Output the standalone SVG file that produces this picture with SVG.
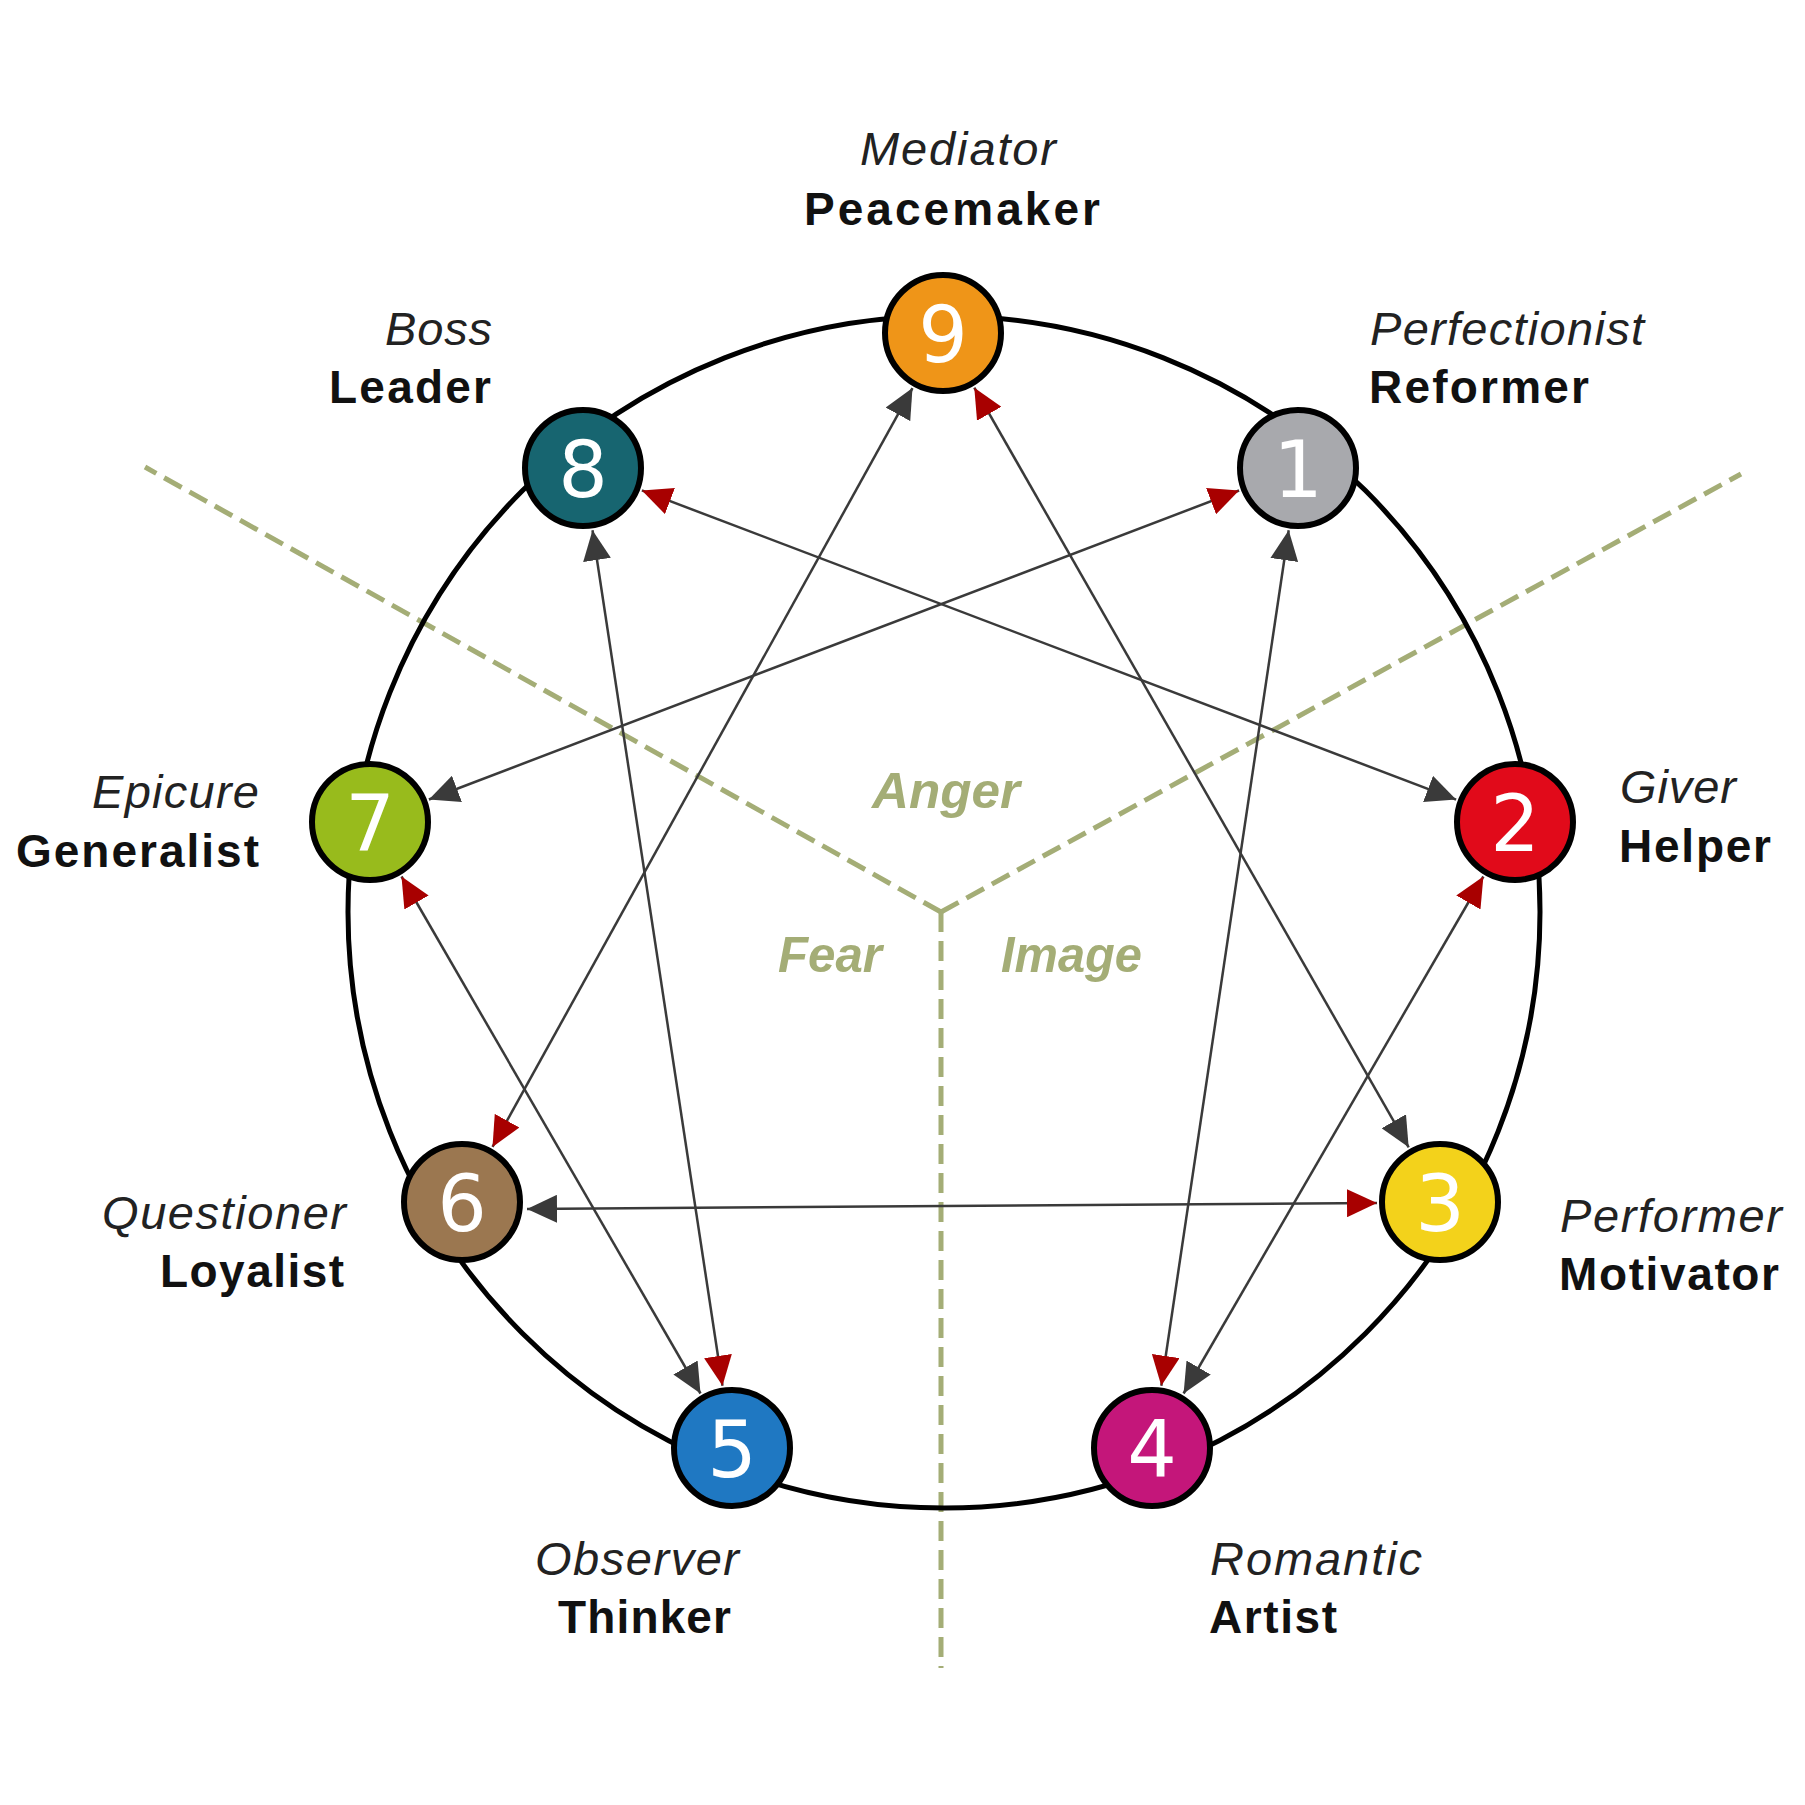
<svg xmlns="http://www.w3.org/2000/svg" width="1805" height="1805" viewBox="0 0 1805 1805">
<style>
.zone{fill:none;stroke:#a4ad76;stroke-width:5;stroke-dasharray:20 9}
.ring{fill:none;stroke:#000;stroke-width:5}
.con{stroke:#3a3a3a;stroke-width:2.5;fill:none;marker-start:url(#dark);marker-end:url(#red)}
.node circle{stroke:#000;stroke-width:6}
.num{font-family:"DejaVu Sans",sans-serif;font-size:78px;fill:#fff;text-anchor:middle}
.it{font-family:"Liberation Sans",Arial,sans-serif;font-style:italic;font-size:47px;fill:#222}
.bd{font-family:"Liberation Sans",Arial,sans-serif;font-weight:bold;font-size:46px;fill:#111}
.zl{font-family:"Liberation Sans",Arial,sans-serif;font-weight:bold;font-style:italic;font-size:50px;fill:#a4ad76}
</style>
<defs>
<marker id="red" viewBox="0 0 30 28" refX="30" refY="14" markerWidth="30" markerHeight="28" markerUnits="userSpaceOnUse" orient="auto"><path d="M0,0 L30,14 L0,28 z" fill="#a80000"/></marker>
<marker id="dark" viewBox="0 0 30 28" refX="30" refY="14" markerWidth="30" markerHeight="28" markerUnits="userSpaceOnUse" orient="auto-start-reverse"><path d="M0,0 L30,14 L0,28 z" fill="#3a3a3a"/></marker>
</defs>
<rect width="1805" height="1805" fill="#fff"/>
<g id="zones">
<path class="zone" d="M941,912 L145,467"/>
<path class="zone" d="M941,912 L1741,474"/>
<path class="zone" d="M941,912 L941,1668"/>
<text class="zl" x="872" y="808" textLength="148" lengthAdjust="spacingAndGlyphs">Anger</text>
<text class="zl" x="778" y="972" textLength="104" lengthAdjust="spacingAndGlyphs">Fear</text>
<text class="zl" x="1001" y="972" textLength="141" lengthAdjust="spacingAndGlyphs">Image</text>
</g>
<circle id="ring" class="ring" cx="944" cy="912" r="596"/>
<g id="connectors">
<path class="con" d="M1288.7,530.3 L1161.3,1385.7"/>
<path class="con" d="M1183.6,1393.5 L1483.4,876.5"/>
<path class="con" d="M1456.1,799.6 L641.9,490.4"/>
<path class="con" d="M592.5,530.3 L722.5,1385.7"/>
<path class="con" d="M700.5,1393.5 L401.5,876.5"/>
<path class="con" d="M428.9,799.5 L1239.1,490.5"/>
<path class="con" d="M912.5,388.1 L492.5,1146.9"/>
<path class="con" d="M527,1209 L1377,1203"/>
<path class="con" d="M1408.7,1147.3 L974.3,387.7"/>
</g>
<g id="n9" class="node"><circle cx="943" cy="333" r="58" fill="#ef9518"/><text class="num" x="943" y="362">9</text>
<text class="it" x="860" y="165" textLength="196">Mediator</text><text class="bd" x="804" y="225" textLength="296">Peacemaker</text></g>
<g id="n1" class="node"><circle cx="1298" cy="468" r="58" fill="#a8a9ad"/><text class="num" x="1298" y="497">1</text>
<text class="it" x="1370" y="345" textLength="274">Perfectionist</text><text class="bd" x="1369" y="403" textLength="220">Reformer</text></g>
<g id="n2" class="node"><circle cx="1515" cy="822" r="58" fill="#e10a1a"/><text class="num" x="1515" y="851">2</text>
<text class="it" x="1620" y="803" textLength="116">Giver</text><text class="bd" x="1619" y="862" textLength="152">Helper</text></g>
<g id="n3" class="node"><circle cx="1440" cy="1202" r="58" fill="#f3d21b"/><text class="num" x="1440" y="1231">3</text>
<text class="it" x="1560" y="1232" textLength="222">Performer</text><text class="bd" x="1559" y="1290" textLength="220">Motivator</text></g>
<g id="n4" class="node"><circle cx="1152" cy="1448" r="58" fill="#c4167a"/><text class="num" x="1152" y="1477">4</text>
<text class="it" x="1210" y="1575" textLength="212">Romantic</text><text class="bd" x="1209" y="1633" textLength="128">Artist</text></g>
<g id="n5" class="node"><circle cx="732" cy="1448" r="58" fill="#1f78c2"/><text class="num" x="732" y="1477">5</text>
<text class="it" x="535" y="1575" textLength="204">Observer</text><text class="bd" x="558" y="1633" textLength="173">Thinker</text></g>
<g id="n6" class="node"><circle cx="462" cy="1202" r="58" fill="#9b7750"/><text class="num" x="462" y="1231">6</text>
<text class="it" x="102" y="1229" textLength="244">Questioner</text><text class="bd" x="160" y="1287" textLength="184">Loyalist</text></g>
<g id="n7" class="node"><circle cx="370" cy="822" r="58" fill="#98bb1c"/><text class="num" x="370" y="851">7</text>
<text class="it" x="92" y="808" textLength="167">Epicure</text><text class="bd" x="16" y="867" textLength="243">Generalist</text></g>
<g id="n8" class="node"><circle cx="583" cy="468" r="58" fill="#176570"/><text class="num" x="583" y="497">8</text>
<text class="it" x="385" y="345" textLength="107">Boss</text><text class="bd" x="329" y="403" textLength="162">Leader</text></g>
</svg>
